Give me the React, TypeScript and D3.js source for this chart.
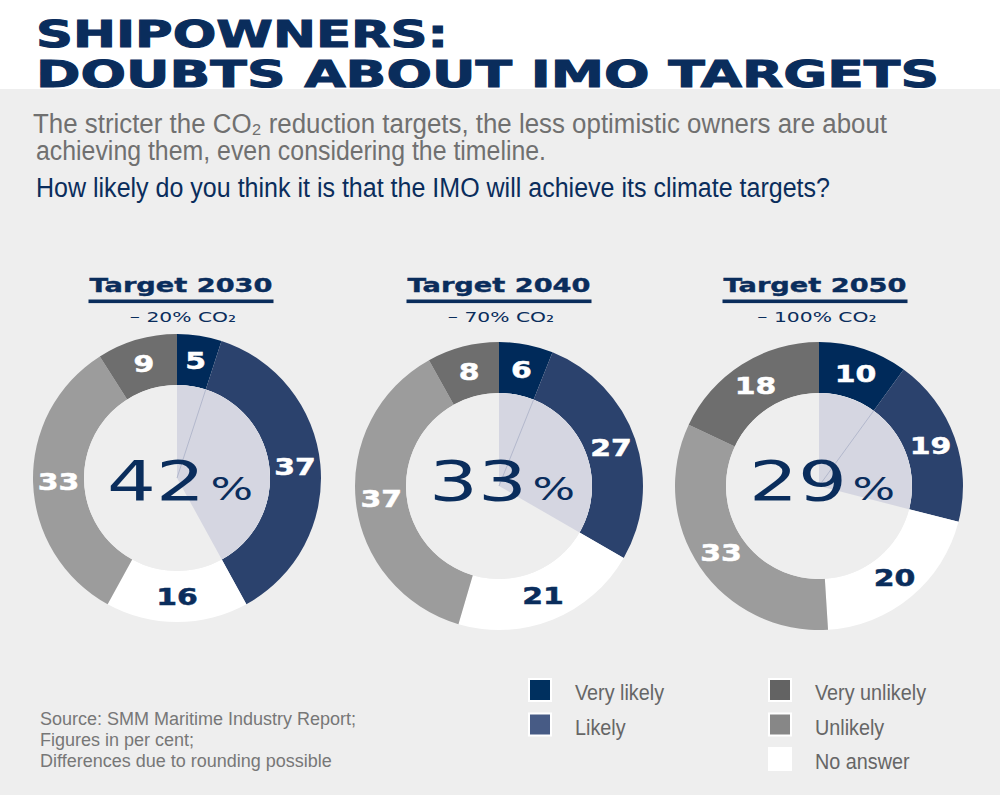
import React from 'react';
import * as d3 from 'd3';

// survey answers, clockwise from 12 o'clock
const categories = ['Very likely', 'Likely', 'No answer', 'Unlikely', 'Very unlikely'];
const targetYears = ['2030', '2040', '2050'];
const reductions = ['20%', '70%', '100%'];
const values2030 = [5, 37, 16, 33, 9];
const values2040 = [6, 27, 21, 37, 8];
const values2050 = [10, 19, 20, 33, 18];
const seriesByTarget = [values2030, values2040, values2050];

const legendLeft = ['Very likely', 'Likely'];
const legendRight = ['Very unlikely', 'Unlikely', 'No answer'];

const sourceLines = [
  'Source: SMM Maritime Industry Report;',
  'Figures in per cent;',
  'Differences due to rounding possible',
];

const NAVY = '#0a2d5c';
const ringColor: Record<string, string> = {
  'Very likely': '#002a5a',
  'Likely': '#2b426d',
  'No answer': '#ffffff',
  'Unlikely': '#9c9c9c',
  'Very unlikely': '#6e6e6e',
};
const legendColor: Record<string, string> = {
  'Very likely': '#00305f',
  'Likely': '#475b85',
  'No answer': '#ffffff',
  'Unlikely': '#878787',
  'Very unlikely': '#636363',
};

const W = 1000;
const H = 795;
const outerR = 144;
const innerR = 93;
const centers = [
  { cx: 177, cy: 478, tx: 181 },
  { cx: 499, cy: 486, tx: 499 },
  { cx: 819, cy: 486, tx: 815 },
];

const sans = "'Liberation Sans Narrow', 'Liberation Sans', Roboto, sans-serif";
const wide = "'DejaVu Sans', Verdana, sans-serif";

const pie = d3.pie<number>().value(d => d).sort(null);
const ringArc = d3.arc<d3.PieArcDatum<number>>().innerRadius(innerR).outerRadius(outerR);
const wedgeArc = d3.arc<any>().innerRadius(0).outerRadius(innerR);

function Donut({ values, idx }: { values: number[]; idx: number }) {
  const { cx, cy, tx } = centers[idx];
  const arcs = pie(values);
  const likelySum = values[0] + values[1];
  // inner wedge spans the two "likely" slices
  const wedge = wedgeArc({ startAngle: 0, endAngle: arcs[1].endAngle });
  const split = arcs[0].endAngle;
  const labelArc = d3.arc<d3.PieArcDatum<number>>()
    .innerRadius((innerR + outerR) / 2)
    .outerRadius((innerR + outerR) / 2);

  return (
    <g>
      {/* heading */}
      <text x={tx} y={292} textAnchor="middle" fontFamily={wide} fontWeight="bold"
        fontSize={20} fill={NAVY} textLength={183} lengthAdjust="spacingAndGlyphs"
        stroke={NAVY} strokeWidth={0.4}>
        {`Target ${targetYears[idx]}`}
      </text>
      <rect x={tx - 92.5} y={299.5} width={185} height={3.6} fill={NAVY} />
      <g transform={`translate(${tx + 2},322) scale(1.45,1)`}>
        <text textAnchor="middle" fontFamily={wide} fontSize={14} fill={NAVY}>
          {`– ${reductions[idx]} CO₂`}
        </text>
      </g>

      <g transform={`translate(${cx},${cy})`}>
        {arcs.map((a, i) => (
          <path key={i} d={ringArc(a) || ''} fill={ringColor[categories[i]]} />
        ))}
        <circle r={innerR} fill="#eeeeee" />
        <path d={wedge || ''} fill="#d5d6e1" />
        <line x1={0} y1={0} x2={innerR * Math.sin(split)} y2={-innerR * Math.cos(split)}
          stroke="#aab0c6" strokeWidth={0.8} />
        {arcs.map((a, i) => {
          const [lx, ly] = labelArc.centroid(a);
          const fill = categories[i] === 'No answer' ? NAVY : '#ffffff';
          return (
            <g key={'l' + i} transform={`translate(${lx},${ly}) scale(1.3,1)`}>
              <text textAnchor="middle" dy="0.36em" fontFamily={wide} fontWeight="bold"
                fontSize={23} fill={fill} stroke={fill} strokeWidth={0.5}>
                {a.data}
              </text>
            </g>
          );
        })}
      </g>

      {/* share of likely answers */}
      <g transform={`translate(${cx + 3},500) scale(1.4,1)`}>
        <text textAnchor="middle" fontFamily={wide} fontSize={55} fill={NAVY}>
          {likelySum}
          <tspan fontSize={32} dx={4}>%</tspan>
        </text>
      </g>
    </g>
  );
}

function LegendItem({ label, x, row }: { label: string; x: number; row: number }) {
  const y = 679 + row * 34.5;
  return (
    <g>
      <rect x={x} y={y} width={22} height={22} fill={legendColor[label]}
        stroke="#ffffff" strokeWidth={2} />
      <g transform={`translate(${x + 46},${y + 21}) scale(0.9,1)`}>
        <text fontFamily={sans} fontSize={22} fill="#666666">{label}</text>
      </g>
    </g>
  );
}

export default function App() {
  return (
    <svg width={W} height={H} viewBox={`0 0 ${W} ${H}`}
      style={{ position: 'absolute', left: 0, top: 0, display: 'block' }}>
      <rect x={0} y={0} width={W} height={H} fill="#ffffff" />
      <rect x={0} y={89} width={W} height={H - 89} fill="#eeeeee" />

      <text x={36} y={47} fontFamily={wide} fontWeight="bold" fontSize={37} fill={NAVY}
        stroke={NAVY} strokeWidth={1} textLength={412} lengthAdjust="spacingAndGlyphs">
        SHIPOWNERS:
      </text>
      <text x={36} y={87} fontFamily={wide} fontWeight="bold" fontSize={37} fill={NAVY}
        stroke={NAVY} strokeWidth={1} textLength={903} lengthAdjust="spacingAndGlyphs">
        DOUBTS ABOUT IMO TARGETS
      </text>

      <text x={33} y={133} fontFamily={sans} fontSize={27} fill="#707070"
        textLength={854} lengthAdjust="spacingAndGlyphs">
        The stricter the CO₂ reduction targets, the less optimistic owners are about
      </text>
      <text x={36} y={160} fontFamily={sans} fontSize={27} fill="#707070"
        textLength={510} lengthAdjust="spacingAndGlyphs">
        achieving them, even considering the timeline.
      </text>
      <text x={36} y={197} fontFamily={sans} fontSize={27} fill={NAVY}
        textLength={794} lengthAdjust="spacingAndGlyphs">
        How likely do you think it is that the IMO will achieve its climate targets?
      </text>

      {seriesByTarget.map((vals, i) => (
        <Donut key={i} values={vals} idx={i} />
      ))}

      {legendLeft.map((l, i) => <LegendItem key={l} label={l} x={529} row={i} />)}
      {legendRight.map((l, i) => <LegendItem key={l} label={l} x={769} row={i} />)}

      {sourceLines.map((s, i) => (
        <text key={i} x={40} y={725 + i * 21} fontFamily={sans} fontSize={18} fill="#777777">
          {s}
        </text>
      ))}
    </svg>
  );
}
